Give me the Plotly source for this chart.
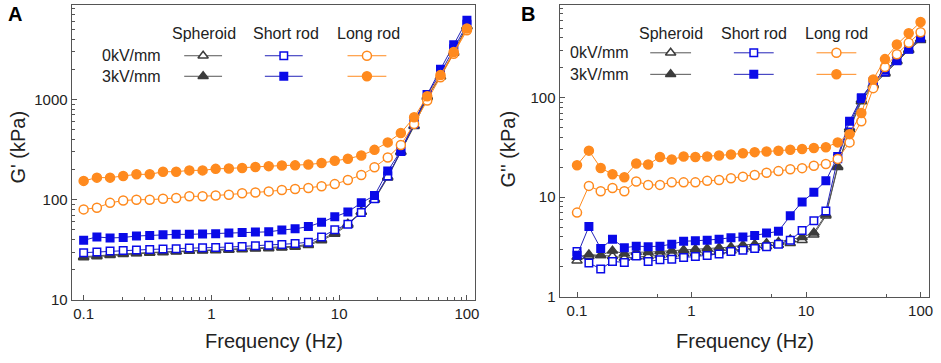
import plotly.graph_objects as go

# ---------------- data ----------------
freq = [0.1, 0.127, 0.161, 0.204, 0.259, 0.329, 0.418, 0.530, 0.672, 0.853,
        1.08, 1.37, 1.74, 2.21, 2.81, 3.56, 4.52, 5.74, 7.28, 9.24,
        11.7, 14.9, 18.9, 24.0, 30.4, 38.6, 48.9, 62.1, 78.8, 100]

# Panel A: G' (kPa)
A_sph_0 = [27.0, 27.6, 28.3, 28.9, 29.3, 29.7, 30.1, 30.6, 31.0, 31.3, 31.5, 31.8, 32.2, 32.7, 33.0,
           33.6, 34.3, 36.0, 40.2, 46.8, 57.5, 76, 101, 170, 298, 540, 1050, 1700, 2900, 5300]
A_sph_3 = [26.5, 27.1, 27.9, 28.6, 29.0, 29.4, 29.8, 30.3, 30.8, 31.0, 31.2, 31.5, 31.9, 32.4, 32.6,
           33.2, 33.7, 35.1, 39.1, 45.5, 56, 75.5, 100, 166, 302, 551, 1080, 1690, 2970, 5400]
A_short_0 = [29.6, 30.1, 30.7, 31.2, 31.5, 31.9, 32.2, 32.4, 32.9, 33.2, 33.4, 33.7, 34.2, 34.7, 35.1,
             35.7, 36.5, 37.7, 42.5, 50.1, 56.9, 74.5, 102, 172, 302, 570, 1120, 1825, 3200, 5610]
A_short_3 = [39.4, 42.5, 41.5, 42, 43.4, 44, 44.8, 45.1, 45.1, 45.5, 45.8, 46.5, 47.2, 47.6, 47.8,
             49.8, 51.2, 53.9, 59.5, 67.5, 75.5, 93, 110, 193, 309, 593, 1120, 1995, 3520, 6170]
A_long_0 = [80, 83, 93, 98, 100, 100, 102, 104, 108, 108, 110, 112, 116, 118, 121,
            125, 128, 131, 136, 143, 157, 176, 211, 264, 351, 570, 977, 1667, 2850, 4900]
A_long_3 = [154, 166, 166, 172, 179, 179, 190, 190, 196, 196, 203, 205, 207, 212, 216,
            219, 220, 224, 232, 245, 256, 276, 314, 373, 463, 663, 1078, 1753, 2970, 5090]

# Panel B: G'' (kPa)
B_sph_0 = [2.3, 2.55, 2.6, 2.55, 2.45, 2.5, 2.55, 2.6, 2.65, 2.7, 2.75, 2.8, 2.85, 2.9, 3.0,
           3.1, 3.2, 3.3, 3.45, 3.7, 4.2, 6.5, 20, 48, 92, 133, 175, 232, 300, 380]
B_sph_3 = [2.5, 2.65, 2.6, 2.9, 2.7, 2.8, 2.8, 2.85, 2.9, 2.95, 3.0, 3.05, 3.1, 3.15, 3.3,
           3.37, 3.45, 3.55, 3.75, 3.95, 4.4, 6.7, 20.5, 50, 95, 137, 179, 236, 307, 391]
B_short_0 = [2.85, 2.18, 1.90, 2.26, 2.21, 2.56, 2.26, 2.35, 2.38, 2.48, 2.53, 2.59, 2.69, 2.84, 2.92,
             3.05, 3.18, 3.37, 3.69, 4.62, 5.80, 7.28, 24.4, 54, 98.6, 143, 182, 236, 307, 399]
B_short_3 = [2.6, 5.07, 3.05, 3.78, 3.10, 3.22, 3.18, 3.22, 3.37, 3.61, 3.64, 3.69, 3.78, 3.92, 3.98,
             4.13, 4.36, 4.54, 6.50, 8.97, 11.2, 14.6, 25.7, 58.2, 100, 145, 189, 240, 312, 408]
B_long_0 = [7.0, 13.0, 11.5, 12.4, 11.5, 14.4, 13.3, 13.3, 14.1, 14.1, 14.1, 14.6, 14.9, 15.5, 16.1,
            16.7, 17.6, 18.3, 19.1, 19.6, 20.7, 21.6, 24.3, 35.6, 58.2, 125, 204, 274, 357, 456]
B_long_3 = [21.0, 29.4, 19.7, 17.0, 15.9, 21.8, 21.3, 25.4, 23.9, 25.7, 25.4, 25.7, 26.3, 26.9, 27.7,
            28.4, 28.8, 29.3, 30.0, 30.6, 31.3, 31.8, 35.6, 43.1, 70.2, 153, 245, 343, 446, 578]

x_tickvals = [0.1, 1, 10, 100]
x_ticktext = ["0.1", "1", "10", "100"]
A_ytickvals = [10, 100, 1000]
A_yticktext = ["10", "100", "1000"]
B_ytickvals = [1, 10, 100]
B_yticktext = ["1", "10", "100"]
A_x_minor = [m * d for d in (0.1, 1, 10) for m in range(2, 10)]
A_y_minor = [m * d for d in (10, 100, 1000) for m in range(2, 10)]
B_x_minor = [0.5, 5, 50]
B_y_minor = [m * d for d in (1, 10, 100) for m in range(2, 10)]

shapes_names = ["Spheroid", "Short rod", "Long rod"]
field_names = ["0kV/mm", "3kV/mm"]

# ---------------- styles ----------------
GRAY = "#3c3c3c"
GRAYLINE = "#555555"
BLUE = "#0a0ae8"
BLUELINE = "#2323b8"
ORANGE = "#ff8a1e"
TXT = "#222222"
AX = "#555555"
FONT = "Liberation Sans, Arial, sans-serif"

styles = {
    ("Spheroid", 0): dict(symbol="triangle-up", color="white", lc=GRAY, line=GRAYLINE, size=9),
    ("Spheroid", 1): dict(symbol="triangle-up", color=GRAY, lc=GRAY, line=GRAYLINE, size=9),
    ("Short rod", 0): dict(symbol="square", color="white", lc=BLUE, line=BLUELINE, size=7.5),
    ("Short rod", 1): dict(symbol="square", color=BLUE, lc=BLUE, line=BLUELINE, size=7.5),
    ("Long rod", 0): dict(symbol="circle", color="white", lc=ORANGE, line=ORANGE, size=9),
    ("Long rod", 1): dict(symbol="circle", color=ORANGE, lc=ORANGE, line=ORANGE, size=9),
}

W, H = 941, 363


def px(xw):
    return xw / W


def py(yw):
    return 1 - yw / H


fig = go.Figure()


def add(xs, ys, key, xa, ya):
    s = styles[key]
    fig.add_trace(go.Scatter(
        x=xs, y=ys, mode="lines+markers", xaxis=xa, yaxis=ya, showlegend=False,
        line=dict(color=s["line"], width=1),
        marker=dict(symbol=s["symbol"], size=s["size"], color=s["color"],
                    line=dict(color=s["lc"], width=1.5)),
    ))


panelA = [(A_sph_0, ("Spheroid", 0)), (A_sph_3, ("Spheroid", 1)),
          (A_short_0, ("Short rod", 0)), (A_short_3, ("Short rod", 1)),
          (A_long_0, ("Long rod", 0)), (A_long_3, ("Long rod", 1))]
panelB = [(B_sph_0, ("Spheroid", 0)), (B_sph_3, ("Spheroid", 1)),
          (B_short_0, ("Short rod", 0)), (B_short_3, ("Short rod", 1)),
          (B_long_0, ("Long rod", 0)), (B_long_3, ("Long rod", 1))]
for ys, key in panelA:
    add(freq, ys, key, "x", "y")
for ys, key in panelB:
    add(freq, ys, key, "x2", "y2")

# ---------------- legend (overlay in pixel space) ----------------
legend_cfg = [
    dict(hx=[205, 287, 370], lab_x=164, rows=[57, 78], sx=[(185, 223), (266, 304), (349, 388)]),
    dict(hx=[674, 757, 840], lab_x=634, rows=[54, 76], sx=[(653, 694), (737, 777), (820, 860)]),
]
annotations = []
for cfg in legend_cfg:
    for name, hx in zip(shapes_names, cfg["hx"]):
        annotations.append(dict(x=px(hx), y=py(34), xref="paper", yref="paper", text=name,
                                showarrow=False, xanchor="center", yanchor="middle",
                                font=dict(family=FONT, size=16, color=TXT)))
    for r, (fname, ry) in enumerate(zip(field_names, cfg["rows"])):
        annotations.append(dict(x=px(cfg["lab_x"]), y=py(ry), xref="paper", yref="paper",
                                text=fname, showarrow=False, xanchor="right", yanchor="middle",
                                font=dict(family=FONT, size=16, color=TXT)))
        for name, (x0, x1) in zip(shapes_names, cfg["sx"]):
            s = styles[(name, r)]
            fig.add_trace(go.Scatter(
                x=[x0, x1], y=[ry, ry], mode="lines",
                xaxis="x3", yaxis="y3", showlegend=False, hoverinfo="skip",
                line=dict(color=s["line"], width=1)))
            fig.add_trace(go.Scatter(
                x=[(x0 + x1) / 2], y=[ry], mode="markers",
                xaxis="x3", yaxis="y3", showlegend=False, hoverinfo="skip",
                marker=dict(symbol=s["symbol"], size=s["size"], color=s["color"],
                            line=dict(color=s["lc"], width=1.5))))

extra = [
    dict(x=px(15), y=py(14), text="<b>A</b>", font=dict(family=FONT, size=20, color="black"),
         xanchor="center"),
    dict(x=px(530), y=py(14), text="<b>B</b>", font=dict(family=FONT, size=20, color="black"),
         xanchor="center"),
    dict(x=px(275), y=py(349), text="Frequency (Hz)", font=dict(family=FONT, size=20, color=TXT),
         xanchor="center"),
    dict(x=px(748), y=py(349), text="Frequency (Hz)", font=dict(family=FONT, size=20, color=TXT),
         xanchor="center"),
    dict(x=px(18), y=py(150), text="G' (kPa)", textangle=-90,
         font=dict(family=FONT, size=20, color=TXT), xanchor="center"),
    dict(x=px(510), y=py(152), text="G'' (kPa)", textangle=-90,
         font=dict(family=FONT, size=20, color=TXT), xanchor="center"),
]
for a in extra:
    a.setdefault("xref", "paper")
    a.setdefault("yref", "paper")
    a.setdefault("showarrow", False)
    a.setdefault("yanchor", "middle")
annotations += extra


def axis(domain, rng, anchor, tv, tt, minor_vals):
    return dict(type="log", showgrid=False, zeroline=False, showline=True, linecolor=AX,
                linewidth=1.2, mirror=True, ticks="inside", ticklen=5, tickwidth=1,
                tickcolor=AX, tickfont=dict(family=FONT, size=15, color=TXT),
                tickmode="array", tickvals=tv, ticktext=tt, ticklabeloverflow="allow",
                domain=domain, range=rng, anchor=anchor,
                minor=dict(ticks="inside", ticklen=3, tickwidth=1, tickcolor=AX,
                           tickmode="array", tickvals=minor_vals, showgrid=False))


fig.update_layout(
    width=W, height=H, autosize=False,
    margin=dict(l=0, r=0, t=0, b=0),
    paper_bgcolor="white", plot_bgcolor="rgba(0,0,0,0)",
    xaxis=axis([px(72), px(477)], [-1.0935, 2.063], "y", x_tickvals, x_ticktext, A_x_minor),
    yaxis=axis([py(306.7), py(4.7)], [1, 3.946], "x", A_ytickvals, A_yticktext, A_y_minor),
    xaxis2=axis([px(562), px(933)], [-1.152, 2.074], "y2", x_tickvals, x_ticktext, B_x_minor),
    yaxis2=axis([py(303.3), py(4.7)], [0, 2.9375], "x2", B_ytickvals, B_yticktext, B_y_minor),
    xaxis3=dict(domain=[0, 1], range=[0, W], visible=False, anchor="y3", fixedrange=True),
    yaxis3=dict(domain=[0, 1], range=[H, 0], visible=False, anchor="x3", fixedrange=True),
    annotations=annotations,
)

fig.write_html("out.html", config={"displayModeBar": False},
               post_script="document.body.style.margin='0px';")
